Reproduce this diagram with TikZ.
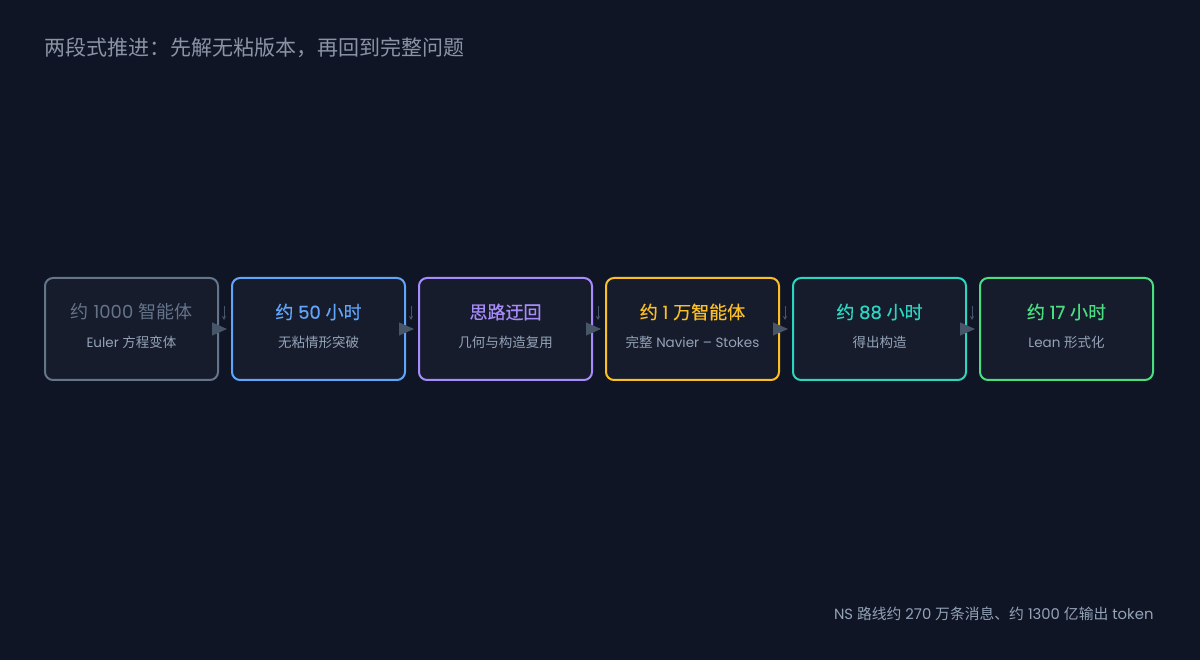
\documentclass[tikz,border=0pt]{standalone}
\usepackage{fontspec}
\setmainfont{Poppins}
\newfontfamily\cjk{Noto Sans CJK SC}
\newfontfamily\headlat[FakeBold=0.5]{Poppins}
\newfontfamily\headcjk[FakeBold=0.5]{Noto Sans CJK SC}
\usetikzlibrary{arrows.meta}
\usetikzlibrary{positioning,calc}
\definecolor{bgdark}{HTML}{0F1524}
\definecolor{boxfill}{HTML}{161C2B}
\definecolor{titlegray}{HTML}{8A94A6}
\definecolor{subgray}{HTML}{94A3B8}
\definecolor{arrowgray}{HTML}{475569}
\definecolor{slateline}{HTML}{64748B}
\definecolor{skyline}{HTML}{60A5FA}
\definecolor{violetline}{HTML}{A78BFA}
\definecolor{amberline}{HTML}{FBBF24}
\definecolor{tealline}{HTML}{2DD4BF}
\definecolor{greenline}{HTML}{4ADE80}
\let\zhfont\cjk
\newcommand*{\zh}[1]{{\zhfont #1}}
\newcommand*{\plain}{\normalfont\let\zhfont\cjk}
\tikzset{flow/.style={-{Triangle[length=15pt,width=13pt]},draw=arrowgray,fill=arrowgray,line width=1pt,shorten >=4pt}}
\tikzset{drop/.style={-{Stealth[length=4pt,width=4pt]},draw=arrowgray,line width=0.8pt}}
\tikzset{
  stage/.style n args={4}{%
    rectangle,
    rounded corners=8pt,
    draw=#1,
    fill=boxfill,
    line width=2pt,
    minimum width=173pt,
    minimum height=102pt,
    append after command={\pgfextra{\let\mainnode=\tikzlastnode}
      node[text=#1, font=\fontsize{18}{20}\headlat\let\zhfont\headcjk] (#4 Title) at ([yshift=17pt]\mainnode.center) {#2}%
      node[text=subgray, font=\fontsize{13.5}{15}\selectfont] (#4 Sub) at ([yshift=-13pt]\mainnode.center) {#3}%
    },
  }
}

\begin{document}
\begin{tikzpicture}[x=1pt,y=-1pt]
    \fill [bgdark] (0,0) rectangle (1200,660);
    \useasboundingbox (0,0) rectangle (1200,660);

    \node [anchor=west, text=titlegray, font=\fontsize{21}{23}\selectfont] (heading) at (41,48) {\zh{两段式推进：先解无粘版本，再回到完整问题}};

    \node [stage={slateline}{\plain\zh{约} 1000 \zh{智能体}}{Euler \zh{方程变体}}{s1}] (s1) at (131.5,329) {};
    \node [stage={skyline}{\zh{约} 50 \zh{小时}}{\zh{无粘情形突破}}{s2}] (s2) at (318.5,329) {};
    \node [stage={violetline}{\zh{思路迂回}}{\zh{几何与构造复用}}{s3}] (s3) at (505.5,329) {};
    \node [stage={amberline}{\zh{约} 1 \zh{万智能体}}{\zh{完整} Navier – Stokes}{s4}] (s4) at (692.5,329) {};
    \node [stage={tealline}{\zh{约} 88 \zh{小时}}{\zh{得出构造}}{s5}] (s5) at (879.5,329) {};
    \node [stage={greenline}{\zh{约} 17 \zh{小时}}{Lean \zh{形式化}}{s6}] (s6) at (1066.5,329) {};

    \foreach \i [evaluate=\i as \j using int(\i+1)] in {1,...,5} {
      \draw [flow] (s\i.east) -- (s\j.west);
      \coordinate (t\i) at ([xshift=5pt,yshift=23pt]s\i.east);
      \draw [drop] (t\i) -- ++(0,-14pt);
    }

    \node [anchor=east, text=subgray, font=\fontsize{14.8}{17}\selectfont] (footer) at (1157,614) {NS \zh{路线约} 270 \zh{万条消息、约} 1300 \zh{亿输出} token};
\end{tikzpicture}
\end{document}
